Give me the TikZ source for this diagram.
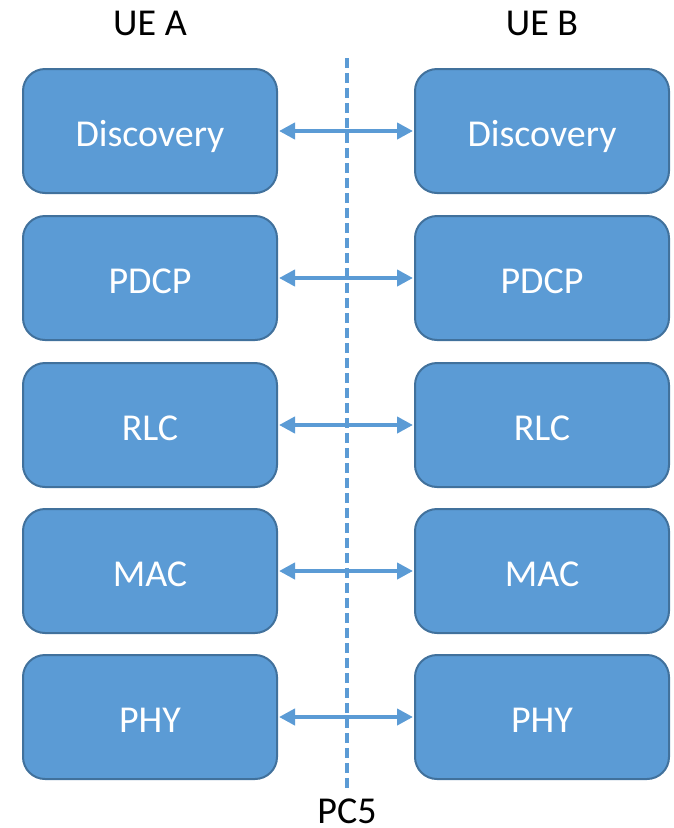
\documentclass[tikz,border=0pt]{standalone}
\usepackage{fontspec}
\setmainfont{Carlito}
\usetikzlibrary{arrows.meta}
\definecolor{layerfill}{HTML}{5B9BD5}
\definecolor{layerline}{HTML}{41719C}
\tikzset{
  layer/.style={draw=layerline, line width=2pt, fill=layerfill, rounded corners=22pt,
    minimum width=254pt, minimum height=124pt, text=white, font=\fontsize{38}{44}\selectfont,
    inner sep=0pt, text height=33pt, text depth=3pt},
  title/.style={font=\fontsize{38}{44}\selectfont, text=black, inner sep=0pt},
  peer/.style={draw=layerfill, line width=4pt, {Triangle[length=16pt,width=16pt]}-{Triangle[length=16pt,width=16pt]}, shorten <=1pt, shorten >=1pt},
  boundary/.style={draw=layerfill, line width=4.5pt, dash pattern=on 10pt off 5pt}
}
\begin{document}
\begin{tikzpicture}[x=1pt,y=-1pt]
  \useasboundingbox (0,0) rectangle (673,828);
  % protocol stacks of the two devices
  \foreach \name/\lbl/\yy in {disc/Discovery/131, pdcp/PDCP/278, rlc/RLC/425, mac/MAC/571, phy/PHY/717} {
    \node[layer] (a-\name) at (150,\yy) {\lbl};
    \node[layer] (b-\name) at (542,\yy) {\lbl};
  }
  % PC5 reference point
  \coordinate (pctop) at (347,58);
  \coordinate (pcbot) at (347,790);
  \draw[boundary] (pctop) -- (pcbot);
  \node[title] (pc5) at (347,811) {PC5};
  \node[title] (uea) at (150,23) {UE A};
  \node[title] (ueb) at (542,23) {UE B};
  % peer-to-peer links
  \foreach \name in {disc,pdcp,rlc,mac,phy} {
    \draw[peer] (a-\name.east) -- (b-\name.west);
  }
\end{tikzpicture}
\end{document}
